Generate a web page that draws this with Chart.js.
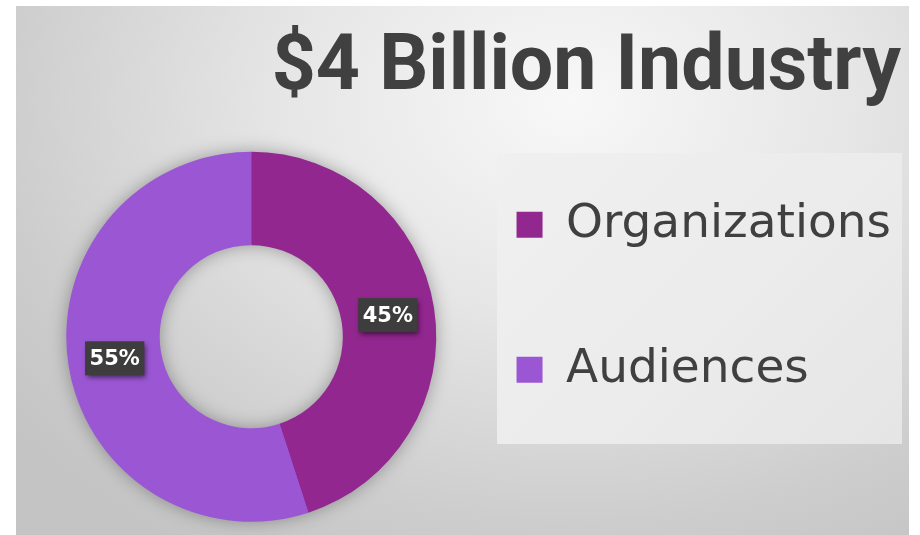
<!DOCTYPE html>
<html>
<head>
<meta charset="utf-8">
<script src="https://cdn.jsdelivr.net/npm/chart.js@4.4.1/dist/chart.umd.min.js"></script>
<style>
  html, body { margin: 0; padding: 0; width: 920px; height: 535px; overflow: hidden; background: #ffffff; }
  #slide {
    position: absolute; left: 16px; top: 6px; width: 893px; height: 529px;
    background: radial-gradient(ellipse 80% 100% at 62% 18%, #f8f8f8 0%, #e6e6e6 40%, #cdcdcd 80%, #c4c4c4 100%);
  }
  #panel {
    position: absolute; left: 497px; top: 153px; width: 405px; height: 291px;
    background: linear-gradient(135deg, #f0f0f0 0%, #ebebeb 60%, #e5e5e5 100%);
  }
  #wrap { position: absolute; left: -20px; top: 0px; width: 940px; height: 560px; }
</style>
</head>
<body>
<div id="slide"></div>
<div id="panel"></div>
<div id="wrap"><canvas id="c" width="940" height="560"></canvas></div>
<script>
const titleText = '$4 Billion Industry';
const categories = ['Organizations', 'Audiences'];
const shares = [45, 55];
const sliceColors = ['#92278f', '#9b57d3'];

// soft shadow behind the ring
const ringShadow = {
  id: 'ringShadow',
  beforeDatasetsDraw(chart) {
    const arc = chart.getDatasetMeta(0).data[0];
    if (!arc) return;
    const { x, y, innerRadius, outerRadius } = arc.getProps(['x', 'y', 'innerRadius', 'outerRadius'], true);
    const ctx = chart.ctx;
    ctx.save();
    ctx.beginPath();
    ctx.arc(x, y, outerRadius - 1, 0, Math.PI * 2);
    ctx.arc(x, y, innerRadius + 1, 0, Math.PI * 2, true);
    ctx.shadowColor = 'rgba(0,0,0,0.35)';
    ctx.shadowBlur = 18;
    ctx.fillStyle = sliceColors[1];
    ctx.fill();
    ctx.restore();
  }
};

// percentage labels in dark boxes
const pctLabels = {
  id: 'pctLabels',
  afterDatasetsDraw(chart) {
    const ctx = chart.ctx;
    const ds = chart.data.datasets[0];
    const total = ds.data.reduce((a, b) => a + b, 0);
    chart.getDatasetMeta(0).data.forEach((arc, i) => {
      const p = arc.tooltipPosition(true);
      const txt = Math.round(ds.data[i] / total * 100) + '%';
      ctx.save();
      ctx.font = 'bold 21px "DejaVu Sans", sans-serif';
      const w = ctx.measureText(txt).width + 9;
      const h = 34;
      ctx.shadowColor = 'rgba(0,0,0,0.55)';
      ctx.shadowBlur = 5;
      ctx.shadowOffsetX = 2;
      ctx.shadowOffsetY = 3;
      ctx.fillStyle = '#3d3d3d';
      ctx.fillRect(p.x - w / 2, p.y - h / 2, w, h);
      ctx.shadowColor = 'transparent';
      ctx.fillStyle = '#ffffff';
      ctx.textAlign = 'center';
      ctx.textBaseline = 'middle';
      ctx.fillText(txt, p.x, p.y + 1);
      ctx.restore();
    });
  }
};

new Chart(document.getElementById('c'), {
  type: 'doughnut',
  data: {
    labels: categories,
    datasets: [{
      data: shares,
      backgroundColor: sliceColors,
      borderWidth: 0
    }]
  },
  options: {
    responsive: false,
    animation: false,
    radius: 185,
    cutout: '49.5%',
    layout: { padding: { left: 25, right: 19, top: 0, bottom: 3 } },
    plugins: {
      tooltip: { enabled: false },
      title: {
        display: true,
        text: titleText,
        align: 'end',
        color: '#404040',
        font: { family: 'Roboto, sans-serif', weight: 'bold', size: 77 },
        padding: { top: 24, bottom: 0 }
      },
      legend: {
        position: 'right',
        fullSize: false,
        align: 'center',
        labels: {
          boxWidth: 26,
          boxHeight: 26,
          padding: 19,
          color: '#404040',
          font: { family: '"DejaVu Sans", sans-serif', size: 47, lineHeight: '126px' },
          generateLabels(chart) {
            const items = Chart.overrides.doughnut.plugins.legend.labels.generateLabels(chart);
            return items.map(it => Object.assign({}, it, { text: [it.text] }));
          }
        }
      }
    }
  },
  plugins: [ringShadow, pctLabels]
});
</script>
</body>
</html>
